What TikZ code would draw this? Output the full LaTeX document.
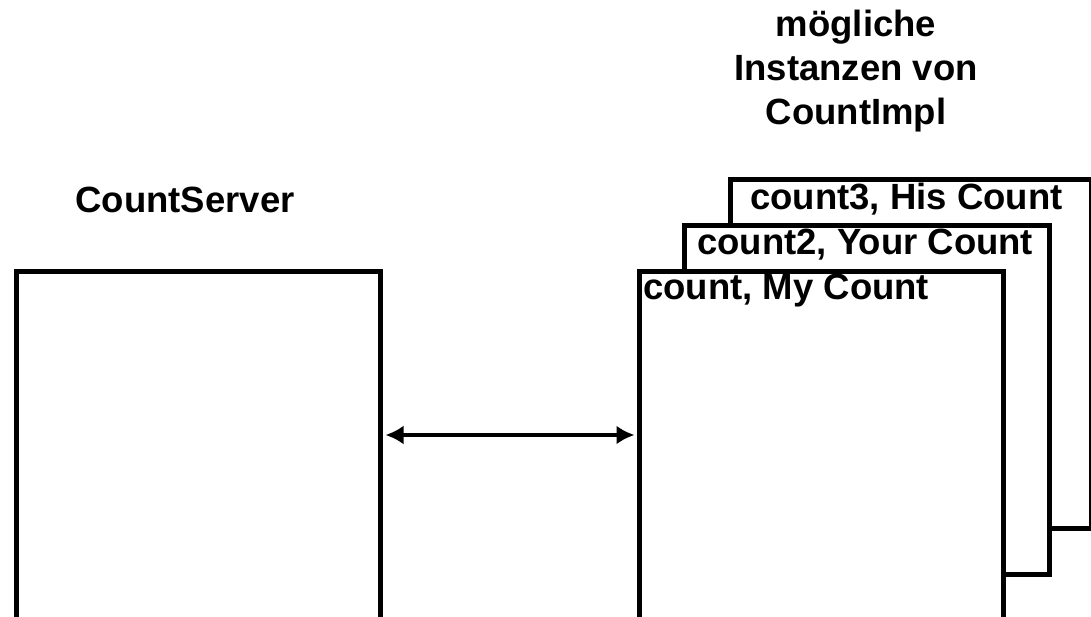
\documentclass[tikz,border=0pt]{standalone}
\usepackage{fontspec}
\setmainfont{Liberation Sans}
\usetikzlibrary{arrows.meta}
\begin{document}
\begin{tikzpicture}[x=1pt,y=-1pt,
  frame/.style={draw=black,fill=white,line width=5pt,rectangle,inner sep=0pt,anchor=north west},
  lbl/.style={font=\fontsize{36.5}{44}\selectfont\bfseries,inner sep=0pt},
  conn/.style={line width=4.5pt,{Latex[length=18pt,width=19pt]}-{Latex[length=18pt,width=19pt]}}]
\useasboundingbox (0,0) rectangle (1091,617);
\clip (0,0) rectangle (1091,617);
% server object
\node[frame,minimum width=364.5pt,minimum height=361pt] (srv) at (13.5,269) {};
% stacked implementation instances, back to front
\node[frame,minimum width=361pt,minimum height=349pt] (inst3) at (728,177) {};
\node[frame,minimum width=365pt,minimum height=349pt] (inst2) at (682,223) {};
\node[frame,minimum width=364pt,minimum height=361pt] (inst1) at (637,269) {};
% captions
\node[lbl,anchor=base] (srvcap) at (185,213) {CountServer};
\node[lbl,anchor=base,align=center] (implcap) at (856,125) {mögliche\\Instanzen von\\CountImpl};
\node[lbl,anchor=base west] (l3) at (750,210) {count3, His Count};
\node[lbl,anchor=base west] (l2) at (697,255) {count2, Your Count};
\node[lbl,anchor=base west] (l1) at (643,300) {count, My Count};
% link between server and instance
\coordinate (ay) at (0,435);
\draw[conn] ([xshift=2.5pt]srv.east |- ay) -- ([xshift=-2.5pt]inst1.west |- ay);
\end{tikzpicture}
\end{document}
